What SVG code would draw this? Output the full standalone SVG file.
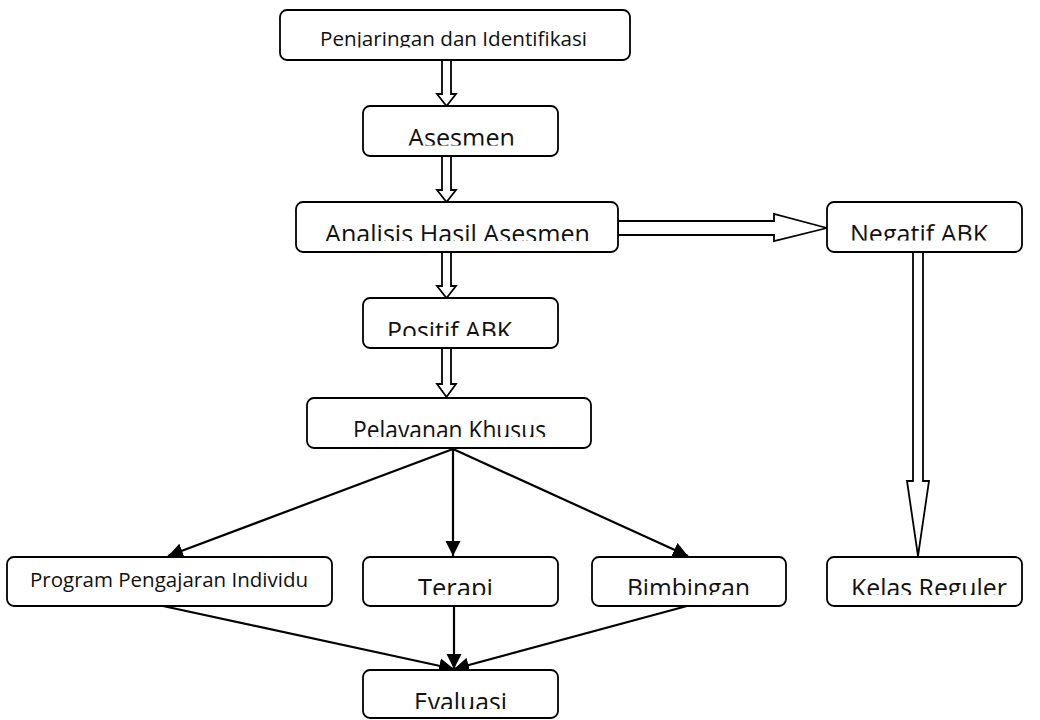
<svg xmlns="http://www.w3.org/2000/svg" width="1040" height="720" viewBox="0 0 1040 720">
<style>
.box{fill:#fff;stroke:#000;stroke-width:1.8}
.blk{fill:#fff;stroke:#000;stroke-width:1.8;stroke-linejoin:miter}
.ln{fill:none;stroke:#000;stroke-width:2.2}
.t{font-family:"Open Sans","Noto Sans","DejaVu Sans",sans-serif;fill:#111}
.big{font-size:26px}
.sm{font-size:20px}
</style>
<defs>
<marker id="ah" markerUnits="userSpaceOnUse" markerWidth="16" markerHeight="16" viewBox="0 0 16 16" refX="15" refY="8" orient="auto">
<path d="M0,0.5 L15,8 L0,15.5 Z" fill="#000"/>
</marker>
<clipPath id="c1" clipPathUnits="userSpaceOnUse"><rect x="280" y="10" width="350" height="37.5"/></clipPath>
<clipPath id="c2" clipPathUnits="userSpaceOnUse"><rect x="363" y="106" width="195" height="39.5"/></clipPath>
<clipPath id="c3" clipPathUnits="userSpaceOnUse"><rect x="296" y="202" width="322" height="39"/></clipPath>
<clipPath id="c4" clipPathUnits="userSpaceOnUse"><rect x="827" y="202" width="195" height="38.5"/></clipPath>
<clipPath id="c5" clipPathUnits="userSpaceOnUse"><rect x="363" y="298" width="195" height="38"/></clipPath>
<clipPath id="c6" clipPathUnits="userSpaceOnUse"><rect x="307" y="398" width="284" height="39"/></clipPath>
<clipPath id="c7" clipPathUnits="userSpaceOnUse"><rect x="7" y="557" width="325" height="36"/></clipPath>
<clipPath id="c8" clipPathUnits="userSpaceOnUse"><rect x="363" y="557" width="195" height="38"/></clipPath>
<clipPath id="c9" clipPathUnits="userSpaceOnUse"><rect x="592" y="557" width="194" height="38"/></clipPath>
<clipPath id="c10" clipPathUnits="userSpaceOnUse"><rect x="827" y="557" width="195" height="38"/></clipPath>
<clipPath id="c11" clipPathUnits="userSpaceOnUse"><rect x="363" y="670" width="195" height="39"/></clipPath>
</defs>

<g id="connectors">
<polygon class="blk" points="442,60 451,60 451,94 456,94 446.5,106 437,94 442,94"/>
<polygon class="blk" points="442,156 451,156 451,190 456,190 446.5,202 437,190 442,190"/>
<polygon class="blk" points="442,252 451,252 451,286 456,286 446.5,298 437,286 442,286"/>
<polygon class="blk" points="442,348 451,348 451,384 456,384 446.5,397 437,384 442,384"/>
<polygon class="blk" points="618,221 774,221 774,214 827,228 774,241 774,235 618,235"/>
<polygon class="blk" points="913,252 923,252 923,481 929,481 918,556 907,481 913,481"/>
<line class="ln" x1="453" y1="449" x2="168" y2="556" marker-end="url(#ah)"/>
<line class="ln" x1="453" y1="449" x2="453" y2="556" marker-end="url(#ah)"/>
<line class="ln" x1="453" y1="449" x2="688" y2="556" marker-end="url(#ah)"/>
<line class="ln" x1="163" y1="606" x2="454" y2="669" marker-end="url(#ah)"/>
<line class="ln" x1="454" y1="606" x2="454" y2="669" marker-end="url(#ah)"/>
<line class="ln" x1="687" y1="606" x2="454" y2="669" marker-end="url(#ah)"/>
</g>

<g id="n1"><rect class="box" x="280" y="10" width="350" height="50" rx="7"/>
<text class="t sm" x="320" y="46" textLength="267" lengthAdjust="spacingAndGlyphs" clip-path="url(#c1)">Penjaringan dan Identifikasi</text></g>

<g id="n2"><rect class="box" x="363" y="106" width="195" height="50" rx="7"/>
<text class="t big" x="408" y="147" textLength="107" lengthAdjust="spacingAndGlyphs" clip-path="url(#c2)">Asesmen</text></g>

<g id="n3"><rect class="box" x="296" y="202" width="322" height="50" rx="7"/>
<text class="t big" x="325" y="243" textLength="265" lengthAdjust="spacingAndGlyphs" clip-path="url(#c3)">Analisis Hasil Asesmen</text></g>

<g id="n4"><rect class="box" x="827" y="202" width="195" height="50" rx="7"/>
<text class="t big" x="850" y="243" textLength="138" lengthAdjust="spacingAndGlyphs" clip-path="url(#c4)">Negatif ABK</text></g>

<g id="n5"><rect class="box" x="363" y="298" width="195" height="50" rx="7"/>
<text class="t big" x="387" y="340" textLength="125" lengthAdjust="spacingAndGlyphs" clip-path="url(#c5)">Positif ABK</text></g>

<g id="n6"><rect class="box" x="307" y="398" width="284" height="50" rx="7"/>
<text class="t big" x="353" y="439" textLength="193" lengthAdjust="spacingAndGlyphs" clip-path="url(#c6)">Pelayanan Khusus</text></g>

<g id="n7"><rect class="box" x="7" y="557" width="325" height="49" rx="7"/>
<text class="t sm" x="30" y="586.5" textLength="278" lengthAdjust="spacingAndGlyphs" clip-path="url(#c7)">Program Pengajaran Individu</text></g>

<g id="n8"><rect class="box" x="363" y="557" width="195" height="49" rx="7"/>
<text class="t big" x="418" y="597" textLength="75" lengthAdjust="spacingAndGlyphs" clip-path="url(#c8)">Terapi</text></g>

<g id="n9"><rect class="box" x="592" y="557" width="194" height="49" rx="7"/>
<text class="t big" x="627" y="597" textLength="123" lengthAdjust="spacingAndGlyphs" clip-path="url(#c9)">Bimbingan</text></g>

<g id="n10"><rect class="box" x="827" y="557" width="195" height="49" rx="7"/>
<text class="t big" x="851" y="597" textLength="156" lengthAdjust="spacingAndGlyphs" clip-path="url(#c10)">Kelas Reguler</text></g>

<g id="n11"><rect class="box" x="363" y="670" width="195" height="48" rx="7"/>
<text class="t big" x="414" y="711" textLength="93" lengthAdjust="spacingAndGlyphs" clip-path="url(#c11)">Evaluasi</text></g>
</svg>
